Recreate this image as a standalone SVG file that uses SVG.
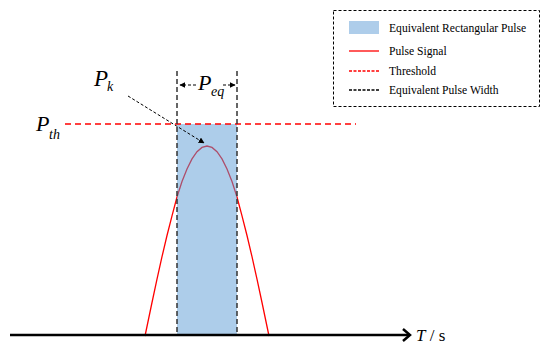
<svg xmlns="http://www.w3.org/2000/svg" width="550" height="353" viewBox="0 0 550 353">
<style>
text{font-family:"Liberation Serif","Times New Roman",serif;fill:#000}
.it{font-style:italic}
.leg{font-size:11.6px}
.vd{stroke:#333;stroke-width:1.5;stroke-dasharray:5,3;fill:none}
.th{stroke:#ff0000;stroke-width:1.5;stroke-dasharray:6,4;fill:none}
.sig{stroke:#ff0000;stroke-width:1.3;fill:none}
</style>
<defs>
<marker id="ah" viewBox="0 0 10 10" refX="9" refY="5" markerWidth="6" markerHeight="6" orient="auto" markerUnits="userSpaceOnUse">
<path d="M0,0 L10,5 L0,10 z" fill="#000"/>
</marker>
</defs>
<rect width="550" height="353" fill="#fff"/>

<g id="signal">
<polyline class="sig" points="145,336 152,302.5 157,279.2 162,256.7 167,235.5 172,215.9 177,197 182,181.5 187,168.9 192,158.9 197,151.7 202,147.4 207,146 212,147.4 217,151.7 222,158.9 227,168.9 232,181.5 237,197 242,215.9 247,235.5 252,256.7 257,279.2 262,302.5 269,336"/>
</g>

<g id="pulse">
<rect x="177" y="124" width="60" height="212" fill="#5b9bd5" fill-opacity="0.5"/>
</g>

<g id="threshold">
<line class="th" x1="65" y1="124" x2="356" y2="124"/>
</g>

<g id="pulse-width">
<line class="vd" x1="177" y1="71" x2="177" y2="336"/>
<line class="vd" x1="237" y1="71" x2="237" y2="336"/>
</g>

<g id="axis">
<line x1="10" y1="335" x2="409" y2="335" stroke="#000" stroke-width="2.5"/>
<polyline points="403,329 410,335 403,341" fill="none" stroke="#000" stroke-width="2.5"/>
<text x="416" y="341" font-size="17"><tspan class="it">T</tspan> / s</text>
</g>

<g id="connectors">
<line x1="128" y1="96" x2="204" y2="143" stroke="#000" stroke-width="1" stroke-dasharray="3,2" marker-end="url(#ah)"/>
<line x1="196" y1="85" x2="180" y2="85" stroke="#000" stroke-width="1" stroke-dasharray="3,2" marker-end="url(#ah)"/>
<line x1="223" y1="85" x2="235" y2="85" stroke="#000" stroke-width="1" stroke-dasharray="3,2" marker-end="url(#ah)"/>
</g>

<g id="labels">
<text x="94" y="86" font-size="23" class="it">P</text>
<text x="107" y="91" font-size="14" class="it">k</text>
<text x="198" y="90" font-size="22" class="it">P</text>
<text x="211" y="96" font-size="14" class="it">eq</text>
<text x="36" y="131" font-size="22" class="it">P</text>
<text x="49" y="139" font-size="14" class="it">th</text>
</g>

<g id="legend">
<rect x="333.5" y="10.5" width="206" height="96" fill="#fff" stroke="#000" stroke-width="1" stroke-dasharray="3,2"/>
<rect x="349" y="21" width="30" height="13" fill="#aecdea"/>
<text class="leg" x="389" y="32">Equivalent Rectangular Pulse</text>
<line x1="349" y1="51" x2="379" y2="51" stroke="#ff0000" stroke-width="1.3"/>
<text class="leg" x="389" y="55">Pulse Signal</text>
<line x1="349" y1="71" x2="379" y2="71" stroke="#ff0000" stroke-width="1.3" stroke-dasharray="3,1.5"/>
<text class="leg" x="389" y="75">Threshold</text>
<line x1="349" y1="90" x2="379" y2="90" stroke="#000" stroke-width="1.3" stroke-dasharray="3,1.5"/>
<text class="leg" x="389" y="94">Equivalent Pulse Width</text>
</g>
</svg>
